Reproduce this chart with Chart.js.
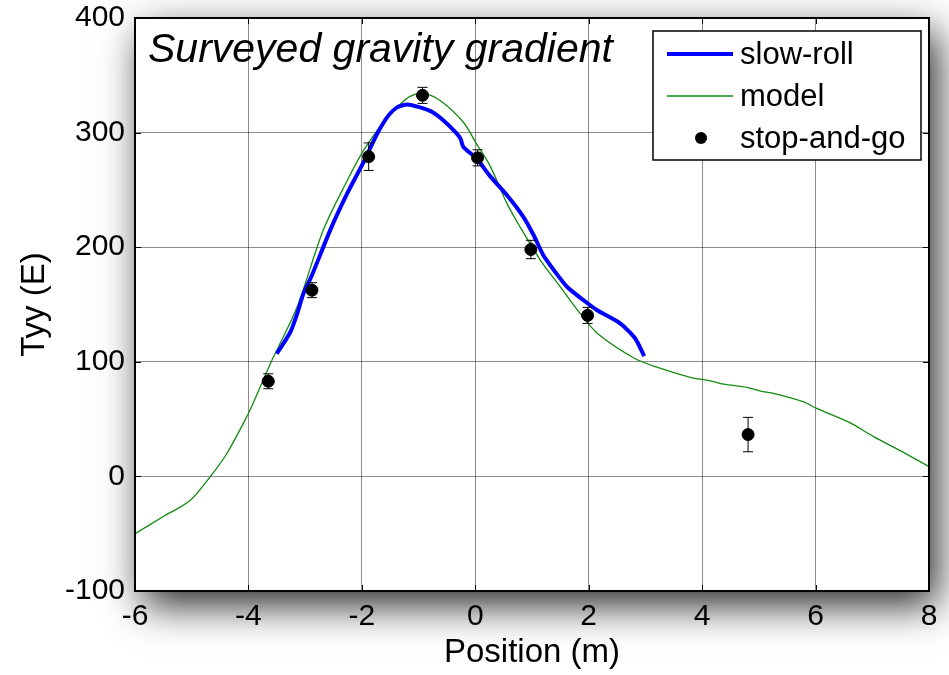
<!DOCTYPE html>
<html><head><meta charset="utf-8">
<script src="https://cdn.jsdelivr.net/npm/chart.js@4/dist/chart.umd.min.js"></script>
<style>html,body{margin:0;padding:0;background:#fff}#wrap{width:949px;height:675px}</style>
</head><body><div id="wrap"><canvas id="c" width="949" height="675"></canvas></div>
<script>
// ---- data ----
const slowRollX = [-3.50,-3.26,-3.14,-3.03,-2.88,-2.56,-2.26,-1.97,-1.73,-1.53,-1.38,-1.20,-0.97,-0.76,-0.56,-0.35,-0.26,-0.21,0.03,0.26,0.56,0.85,1.03,1.20,1.41,1.62,1.91,2.15,2.56,2.82,2.98];
const slowRollY = [107,126,142,159.5,175.5,214.7,246.7,274.3,299,315,322,324.6,322,318,310.6,300.4,294.7,287.4,277,262,245.3,226.3,210.4,193,178.4,165.3,153.7,145,133.4,120.3,104.9];
const modelX = [-6,-5.5,-5.03,-4.67,-4.38,-4.03,-3.88,-3.59,-3.50,-3.14,-2.68,-2.26,-1.97,-1.62,-1.38,-1.15,-0.91,-0.62,-0.21,0.03,0.26,0.56,0.79,1.15,1.50,1.85,2.15,2.79,3.20,3.79,4.14,4.38,4.79,5.03,5.26,5.79,6.02,6.61,7.03,7.50,8.0];
const modelY = [-50,-35,-21,0,20,52,68,101,110,148,215,258,284.5,309,322,331.6,334,328,309,289.5,271,238,217.6,188.6,165.3,142,125,103.5,95.3,86.5,83.4,80.5,77.6,74.4,72.4,65,59.3,46.7,34.5,22.3,8.5];
const stopGoX = [-3.65,-2.88,-1.88,-0.93,0.04,0.98,1.98,4.81];
const stopGoY = [83,162.5,279,332.5,278,198,140.5,36.5];
const stopGoErr = [6.5,6.5,12,7,7,8,7,15];
const xTicks = [-6,-4,-2,0,2,4,6,8];
const yTicks = [-100,0,100,200,300,400];
const seriesLabels = ['slow-roll','model','stop-and-go'];
const titleText = 'Surveyed gravity gradient';
const xTitle = 'Position (m)';
const yTitle = 'Tyy (E)';

const FONT = 'Liberation Sans, Arial, sans-serif';
const zip = (xs, ys) => xs.map((x, i) => ({x, y: ys[i]}));

const shadowPlugin = {
  id: 'shadowBox',
  beforeDraw(chart) {
    const {ctx, chartArea: a} = chart;
    ctx.save();
    ctx.shadowColor = 'rgba(0,0,0,0.85)';
    ctx.shadowBlur = 38;
    ctx.shadowOffsetX = 8;
    ctx.shadowOffsetY = 14;
    ctx.fillStyle = '#fff';
    ctx.fillRect(a.left, a.top, a.right - a.left, a.bottom - a.top);
    ctx.restore();
  }
};

const errorBarPlugin = {
  id: 'errorBars',
  afterDatasetsDraw(chart) {
    const {ctx, scales: {x, y}} = chart;
    ctx.save();
    ctx.strokeStyle = '#000';
    ctx.lineWidth = 1;
    stopGoX.forEach((xv, i) => {
      const px = x.getPixelForValue(xv);
      const pt = y.getPixelForValue(stopGoY[i] + stopGoErr[i]);
      const pb = y.getPixelForValue(stopGoY[i] - stopGoErr[i]);
      ctx.beginPath();
      ctx.moveTo(px, pt); ctx.lineTo(px, pb);
      ctx.moveTo(px - 5, pt); ctx.lineTo(px + 5, pt);
      ctx.moveTo(px - 5, pb); ctx.lineTo(px + 5, pb);
      ctx.stroke();
    });
    ctx.restore();
  }
};

const framePlugin = {
  id: 'frame',
  afterDraw(chart) {
    const {ctx, chartArea: a, scales: {x, y}} = chart;
    ctx.save();
    ctx.strokeStyle = '#000';
    ctx.lineWidth = 1;
    ctx.beginPath();
    xTicks.forEach(v => {
      const px = Math.round(x.getPixelForValue(v)) + 0.5;
      ctx.moveTo(px, a.bottom); ctx.lineTo(px, a.bottom - 6);
      ctx.moveTo(px, a.top); ctx.lineTo(px, a.top + 6);
    });
    yTicks.forEach(v => {
      const py = Math.round(y.getPixelForValue(v)) + 0.5;
      ctx.moveTo(a.left, py); ctx.lineTo(a.left + 6, py);
      ctx.moveTo(a.right, py); ctx.lineTo(a.right - 6, py);
    });
    ctx.stroke();
    ctx.lineWidth = 2;
    ctx.strokeRect(a.left, a.top, a.right - a.left, a.bottom - a.top);
    ctx.fillStyle = '#000';
    ctx.font = 'italic 41px ' + FONT;
    ctx.textAlign = 'left';
    ctx.textBaseline = 'alphabetic';
    ctx.fillText(titleText, a.left + 13, a.top + 44);
    const lx = 653, ly = 31, lw = 268, lh = 129;
    ctx.fillStyle = '#fff';
    ctx.fillRect(lx, ly, lw, lh);
    ctx.lineWidth = 1.5;
    ctx.strokeStyle = '#000';
    ctx.strokeRect(lx, ly, lw, lh);
    const rows = [ly + 23, ly + 65, ly + 107];
    ctx.lineCap = 'butt';
    ctx.strokeStyle = '#0000ff'; ctx.lineWidth = 4;
    ctx.beginPath(); ctx.moveTo(667, rows[0]); ctx.lineTo(733, rows[0]); ctx.stroke();
    ctx.strokeStyle = '#138a13'; ctx.lineWidth = 1.3;
    ctx.beginPath(); ctx.moveTo(667, rows[1]); ctx.lineTo(733, rows[1]); ctx.stroke();
    ctx.fillStyle = '#000';
    ctx.beginPath(); ctx.arc(701, rows[2], 6, 0, Math.PI * 2); ctx.fill();
    ctx.font = '31px ' + FONT;
    ctx.textBaseline = 'middle';
    seriesLabels.forEach((t, i) => ctx.fillText(t, 740, rows[i] + 1));
    ctx.restore();
  }
};

new Chart(document.getElementById('c'), {
  type: 'scatter',
  data: {
    datasets: [
      { label: seriesLabels[2], data: zip(stopGoX, stopGoY), showLine: false,
        pointRadius: 6, pointBackgroundColor: '#000', pointBorderColor: '#000', order: 0 },
      { label: seriesLabels[0], data: zip(slowRollX, slowRollY), showLine: true,
        borderColor: '#0000ff', borderWidth: 4, pointRadius: 0, tension: 0.2, order: 1 },
      { label: seriesLabels[1], data: zip(modelX, modelY), showLine: true,
        borderColor: '#138a13', borderWidth: 1.3, pointRadius: 0, tension: 0.3, order: 2 }
    ]
  },
  options: {
    responsive: false,
    animation: false,
    layout: { padding: { top: 18, right: 20, left: 0, bottom: 0 } },
    plugins: { legend: { display: false }, tooltip: { enabled: false } },
    scales: {
      x: {
        type: 'linear', min: -6, max: 8,
        afterBuildTicks: s => { s.ticks = xTicks.map(v => ({value: v})); },
        afterFit: s => { s.height = 84; s.paddingLeft = 0; s.paddingRight = 0; },
        grid: { color: 'rgba(0,0,0,0.45)', lineWidth: 1, drawTicks: false },
        border: { display: false },
        ticks: { color: '#000', font: { family: FONT, size: 30 }, padding: 8, maxRotation: 0 },
        title: { display: true, text: xTitle, color: '#000', font: { family: FONT, size: 33 }, padding: { top: 0, bottom: 2 } }
      },
      y: {
        type: 'linear', min: -100, max: 400,
        afterBuildTicks: s => { s.ticks = yTicks.map(v => ({value: v})); },
        afterFit: s => { s.width = 135; s.paddingTop = 0; s.paddingBottom = 0; },
        grid: { color: 'rgba(0,0,0,0.45)', lineWidth: 1, drawTicks: false },
        border: { display: false },
        ticks: { color: '#000', font: { family: FONT, size: 30 }, padding: 10 },
        title: { display: true, text: yTitle, color: '#000', font: { family: FONT, size: 33 }, padding: { top: 15, bottom: 0 } }
      }
    }
  },
  plugins: [shadowPlugin, errorBarPlugin, framePlugin]
});
</script></body></html>
